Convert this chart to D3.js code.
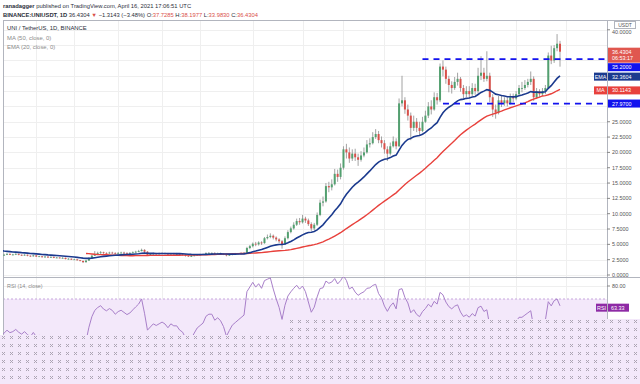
<!DOCTYPE html>
<html><head><meta charset="utf-8">
<script src="https://cdn.jsdelivr.net/npm/d3@7"></script>
<style>
body{margin:0;background:#fff;}
svg{display:block;font-family:"Liberation Sans",Arial,sans-serif;}
</style></head><body>
<svg id="chart" width="640" height="384"></svg>
<script>
// daily UNI/USDT candles, first one 2020-09-17 (the first 21 sit left of the visible window)
const firstOpen = 3.4;
const closes = [
  4.0, 5.6, 6.2, 5.2, 4.7, 4.6, 4.3, 4.6, 4.8, 4.7, 4.6, 4.5, 4.4, 4.2, 4.0, 3.8, 3.6, 3.5, 3.3, 3.2, 3.2,
  3.3, 3.45, 3.3, 3.35, 3.45, 3.3, 3.2, 3.3, 3.15,
  3.05, 3.2, 3.0, 3.05, 2.9, 3.0, 2.85, 2.95, 2.8, 2.85,
  2.75, 2.8, 2.6, 2.65, 2.5, 2.55, 2.4, 2.3, 2.1, 2.35,
  2.75, 3.15, 3.45, 3.6, 3.7, 3.6, 3.55, 3.65, 3.6, 3.5,
  3.6, 3.65, 3.6, 3.55, 3.6, 3.7, 3.8, 3.9, 4.1, 3.8,
  3.3, 3.4, 3.5, 3.45, 3.5, 3.55, 3.5, 3.4, 3.5, 3.45,
  3.45, 3.35, 3.3, 3.15, 3.05, 3.1, 3.2, 3.3, 3.35, 3.4,
  3.55, 3.6, 3.6, 3.5, 3.55, 3.5, 3.4, 3.2, 3.3, 3.4,
  3.45, 3.5, 3.55, 3.6, 4.4, 4.7, 5.1, 5.0, 5.3, 5.2,
  6.0, 6.2, 6.4, 6.1, 5.8, 5.5, 5.0, 6.0, 7.0, 7.6,
  8.2, 8.8, 8.6, 9.2, 8.9, 8.3, 7.6, 8.2, 9.8, 11.8,
  12.0, 14.5, 14.3, 14.8, 16.5, 16.0, 17.5, 20.5, 20.0, 19.0,
  19.8, 19.2, 18.8, 19.5, 20.0, 21.3, 21.5, 22.5, 23.0, 22.0,
  21.5, 20.5, 19.8, 21.0, 21.8, 21.0, 28.0, 28.5, 27.0, 26.0,
  24.0, 25.0, 24.0, 23.5, 25.0, 26.0, 27.5, 27.0, 29.0, 28.5,
  34.0, 33.5, 32.0, 31.0, 30.5, 31.5, 32.0, 30.5, 29.5, 30.0,
  29.5, 30.5, 30.0, 32.5, 33.0, 32.0, 32.5, 29.0, 27.0, 26.5,
  28.5, 28.0, 28.5, 28.0, 29.0, 28.8, 29.5, 30.5, 30.5, 31.0,
  31.5, 32.0, 29.0, 30.0, 29.5, 30.0, 30.5, 35.8, 35.0, 37.0, 37.7285, 36.4304
];
const highs = [
  4.5, 6.4, 8.4, 6.3, 5.3, 5.0, 4.8, 4.9, 5.1, 5.0, 4.9, 4.8, 4.6, 4.5, 4.3, 4.1, 3.9, 3.7, 3.6, 3.4, 3.4,
  3.45, 3.55, 3.5, 3.45, 3.55, 3.5, 3.35, 3.4, 3.35,
  3.2, 3.3, 3.25, 3.15, 3.1, 3.1, 3.05, 3.05, 3.0, 2.95,
  2.9, 2.9, 2.85, 2.75, 2.7, 2.65, 2.6, 2.45, 2.35, 2.45,
  2.9, 3.3, 3.9, 3.8, 3.9, 3.8, 3.7, 3.8, 3.8, 3.7,
  3.75, 3.8, 3.8, 3.7, 3.75, 3.85, 3.95, 4.1, 4.3, 4.2,
  3.9, 3.55, 3.65, 3.6, 3.65, 3.7, 3.65, 3.6, 3.6, 3.6,
  3.6, 3.5, 3.45, 3.4, 3.25, 3.25, 3.3, 3.4, 3.45, 3.5,
  3.7, 3.75, 3.7, 3.7, 3.65, 3.65, 3.55, 3.45, 3.4, 3.5,
  3.6, 3.6, 3.7, 3.75, 4.6, 4.9, 5.3, 5.4, 5.5, 5.5,
  6.2, 6.6, 6.8, 6.6, 6.3, 6.0, 5.7, 6.3, 7.3, 7.9,
  8.6, 9.2, 9.3, 9.8, 9.5, 9.2, 8.6, 8.5, 10.2, 12.3,
  12.8, 15.0, 15.2, 15.6, 17.3, 17.2, 18.2, 21.0, 21.4, 20.8,
  20.5, 20.6, 19.8, 20.2, 20.8, 22.0, 22.3, 23.3, 23.8, 23.5,
  22.6, 22.0, 21.0, 21.6, 22.6, 22.3, 28.8, 32.5, 29.0, 27.8,
  26.5, 26.0, 25.6, 25.0, 25.8, 26.8, 28.2, 28.5, 29.8, 29.7,
  34.5, 35.0, 34.0, 32.5, 31.6, 32.3, 33.0, 32.3, 31.0, 30.8,
  30.8, 31.3, 31.2, 33.8, 35.7, 33.8, 36.5, 33.0, 29.5, 27.8,
  29.2, 29.3, 29.0, 29.0, 29.6, 29.6, 30.0, 31.0, 31.5, 31.8,
  32.0, 33.2, 32.4, 30.5, 30.3, 30.5, 31.0, 36.3, 37.4, 37.5, 39.3, 38.1977
];
const lows = [
  3.0, 3.9, 5.2, 4.8, 4.3, 4.3, 4.1, 4.2, 4.5, 4.5, 4.4, 4.3, 4.1, 4.0, 3.8, 3.6, 3.4, 3.3, 3.1, 3.0, 3.0,
  3.15, 3.25, 3.25, 3.2, 3.25, 3.2, 3.1, 3.15, 3.05,
  2.95, 3.0, 2.95, 2.95, 2.85, 2.85, 2.8, 2.8, 2.75, 2.75,
  2.7, 2.7, 2.55, 2.55, 2.45, 2.45, 2.35, 2.25, 1.95, 2.0,
  2.3, 2.7, 3.1, 3.35, 3.45, 3.45, 3.4, 3.45, 3.45, 3.35,
  3.4, 3.5, 3.45, 3.4, 3.45, 3.55, 3.6, 3.7, 3.85, 3.6,
  3.1, 3.2, 3.3, 3.3, 3.35, 3.4, 3.35, 3.25, 3.3, 3.3,
  3.3, 3.2, 3.15, 3.0, 2.95, 2.95, 3.05, 3.15, 3.2, 3.25,
  3.35, 3.45, 3.45, 3.35, 3.4, 3.35, 3.25, 3.05, 3.1, 3.2,
  3.3, 3.35, 3.4, 3.45, 3.55, 4.2, 4.5, 4.7, 4.8, 4.9,
  5.1, 5.8, 6.0, 5.8, 5.5, 5.2, 4.3, 4.9, 5.8, 6.8,
  7.4, 8.0, 8.2, 8.4, 8.5, 8.0, 7.2, 7.3, 8.0, 9.6,
  11.2, 11.8, 13.5, 13.8, 14.6, 15.2, 15.6, 17.2, 19.0, 18.3,
  18.6, 18.6, 17.8, 18.5, 19.2, 19.8, 20.8, 21.3, 22.2, 21.5,
  20.8, 19.8, 18.6, 19.5, 20.8, 20.5, 20.9, 27.5, 26.3, 25.2,
  22.0, 23.5, 23.3, 22.8, 23.3, 24.8, 25.6, 26.2, 26.8, 27.8,
  28.2, 32.4, 31.2, 29.8, 29.6, 30.2, 30.9, 29.9, 28.8, 29.0,
  28.8, 29.2, 29.4, 29.6, 31.8, 31.5, 31.6, 28.2, 25.8, 25.5,
  26.2, 27.4, 27.6, 27.5, 27.8, 28.2, 28.5, 29.2, 29.8, 30.2,
  30.6, 31.0, 28.4, 28.7, 29.0, 29.2, 29.5, 30.3, 34.4, 34.6, 36.5, 33.983
];

const priceTicks = [0, 2.5, 5, 7.5, 10, 12.5, 15, 17.5, 20, 22.5, 25, 27.5, 30, 32.5, 35, 37.5, 40];
const gridDates = ["2020-10-19","2020-11-01","2020-11-16","2020-12-01","2020-12-14","2021-01-01",
  "2021-01-18","2021-02-01","2021-02-15","2021-03-01","2021-03-16","2021-04-01","2021-04-18"];
const levels = [35.2, 27.97];
const levelStarts = ["2021-02-28", "2021-03-07"];
const emaLast = 32.3604, maLast = 30.1143, rsiLast = 63.33;

const green = "#53a070", red = "#d9504a", wick = "#8c8c8c";
const svg = d3.select("#chart");
const parse = d3.utcParse("%Y-%m-%d");
const dates = closes.map((_, i) => new Date(Date.UTC(2020, 8, 17 + i)));

const pL = 3, axisX = 607, pT = 20, sep = 277, H = 384;
const x = d3.scaleUtc().domain([parse("2020-11-05"), parse("2021-04-16")]).range([86, 560]);
const y = d3.scaleLinear().domain([0, 40]).range([275, 29.8]);
const yr = d3.scaleLinear().domain([80, 30]).range([286, 351]);

const defs = svg.append("defs");
defs.append("clipPath").attr("id", "cMain").append("rect")
  .attr("x", pL).attr("y", pT).attr("width", axisX - pL).attr("height", sep - pT);
defs.append("clipPath").attr("id", "cRsi").append("rect")
  .attr("x", pL).attr("y", sep).attr("width", axisX - pL).attr("height", H - sep);
const pat = defs.append("pattern").attr("id", "dots").attr("width", 8).attr("height", 8)
  .attr("patternUnits", "userSpaceOnUse").attr("x", 2).attr("y", 0);
pat.append("rect").attr("width", 8).attr("height", 8).attr("fill", "#f3e8fa");
[[0,0],[2,0],[1,1],[0,2],[2,2]].forEach(p => pat.append("rect")
  .attr("x", p[0]).attr("y", p[1]).attr("width", 1).attr("height", 1).attr("fill", "#aca4b3"));

// header
const hdr = svg.append("g").attr("font-size", 5.8).attr("fill", "#2a2e39");
const t1 = hdr.append("text").attr("x", 3).attr("y", 8);
t1.append("tspan").attr("font-weight", "bold").text("ranadagger");
t1.append("tspan").text(" published on TradingView.com, April 16, 2021 17:06:51 UTC");
const t2 = hdr.append("text").attr("x", 3).attr("y", 17);
t2.append("tspan").attr("font-weight", "bold").text("BINANCE:UNIUSDT, 1D");
t2.append("tspan").text(" 36.4304 ");
t2.append("tspan").attr("fill", red).text("▼");
t2.append("tspan").text(" −1.3143 (−3.48%) O:");
t2.append("tspan").attr("fill", red).text("37.7285");
t2.append("tspan").text(" H:");
t2.append("tspan").attr("fill", red).text("38.1977");
t2.append("tspan").text(" L:");
t2.append("tspan").attr("fill", red).text("33.9830");
t2.append("tspan").text(" C:");
t2.append("tspan").attr("fill", red).text("36.4304");

// grid
const grid = svg.append("g").attr("stroke", "#efefef").attr("shape-rendering", "crispEdges");
grid.selectAll(".v").data(gridDates).join("line")
  .attr("x1", d => Math.round(x(parse(d))) + 0.5).attr("x2", d => Math.round(x(parse(d))) + 0.5)
  .attr("y1", pT).attr("y2", H);
grid.selectAll(".h").data(priceTicks).join("line")
  .attr("x1", pL).attr("x2", axisX).attr("y1", d => Math.round(y(d)) + 0.5).attr("y2", d => Math.round(y(d)) + 0.5);
grid.selectAll(".r").data([80, 60]).join("line")
  .attr("x1", pL).attr("x2", axisX).attr("y1", d => Math.round(yr(d)) + 0.5).attr("y2", d => Math.round(yr(d)) + 0.5);

// RSI band
svg.append("rect").attr("x", pL).attr("y", yr(70)).attr("width", axisX - pL).attr("height", H - yr(70))
  .attr("fill", "#f3e8fa");
svg.append("line").attr("x1", pL).attr("x2", axisX).attr("y1", yr(70)).attr("y2", yr(70))
  .attr("stroke", "#c7a6dc").attr("stroke-dasharray", "2,2");

// frame
const frame = svg.append("g").attr("stroke", "#b2b5be").attr("shape-rendering", "crispEdges");
frame.append("line").attr("x1", pL).attr("x2", 640).attr("y1", pT + 0.5).attr("y2", pT + 0.5);
frame.append("line").attr("x1", pL + 0.5).attr("x2", pL + 0.5).attr("y1", pT).attr("y2", H);
frame.append("line").attr("x1", axisX + 0.5).attr("x2", axisX + 0.5).attr("y1", pT).attr("y2", H);
frame.append("line").attr("x1", pL).attr("x2", 640).attr("y1", sep + 0.5).attr("y2", sep + 0.5);

// candles
const main = svg.append("g").attr("clip-path", "url(#cMain)");
const candles = closes.map((c, i) => ({
  date: dates[i], o: i === 0 ? firstOpen : closes[i - 1], h: highs[i], l: lows[i], c
}));
main.append("g").selectAll("line").data(candles).join("line")
  .attr("x1", d => x(d.date)).attr("x2", d => x(d.date))
  .attr("y1", d => y(d.h)).attr("y2", d => y(d.l))
  .attr("stroke", wick).attr("stroke-width", 0.8);
main.append("g").selectAll("rect").data(candles).join("rect")
  .attr("x", d => x(d.date) - 1).attr("width", 2)
  .attr("y", d => y(Math.max(d.o, d.c)))
  .attr("height", d => Math.max(0.8, Math.abs(y(d.o) - y(d.c))))
  .attr("fill", d => d.c >= d.o ? green : red);

// indicators
const alpha = 2 / 21;
const ema = [];
closes.forEach((c, i) => ema.push(i === 0 ? c : alpha * c + (1 - alpha) * ema[i - 1]));
const ma = closes.map((c, i) => i < 49 ? null : d3.mean(closes.slice(i - 49, i + 1)));
const line = d3.line().defined(d => d[1] != null).x(d => x(d[0])).y(d => y(d[1]));
main.append("path").attr("d", line(dates.map((d, i) => [d, ma[i]])))
  .attr("fill", "none").attr("stroke", "#e8413c").attr("stroke-width", 1.4);
main.append("path").attr("d", line(dates.map((d, i) => [d, ema[i]])))
  .attr("fill", "none").attr("stroke", "#1b3a8e").attr("stroke-width", 1.6);

// level lines
main.selectAll(".lvl").data(levels).join("line")
  .attr("x1", (d, i) => x(parse(levelStarts[i]))).attr("x2", axisX)
  .attr("y1", d => y(d)).attr("y2", d => y(d))
  .attr("stroke", "#1212ee").attr("stroke-width", 1.8).attr("stroke-dasharray", "6,5");

// RSI
const rsi = [];
let ag = 0, al = 0;
for (let i = 1; i < closes.length; i++) {
  const ch = closes[i] - closes[i - 1];
  const g = Math.max(ch, 0), l = Math.max(-ch, 0);
  if (i <= 14) { ag += g / 14; al += l / 14; if (i === 14) rsi[i] = 100 - 100 / (1 + ag / al); }
  else { ag = (ag * 13 + g) / 14; al = (al * 13 + l) / 14; rsi[i] = 100 - 100 / (1 + ag / al); }
}
svg.append("g").attr("clip-path", "url(#cRsi)").append("path")
  .attr("d", d3.line().defined(d => d[1] != null).x(d => x(d[0])).y(d => yr(d[1]))(dates.map((d, i) => [d, rsi[i] ?? null])))
  .attr("fill", "none").attr("stroke", "#a87fc9").attr("stroke-width", 1);

// legends
const lg = svg.append("g").attr("font-size", 5.9);
lg.append("text").attr("x", 7).attr("y", 30).attr("fill", "#2a2e39").text("UNI / TetherUS, 1D, BINANCE");
lg.append("text").attr("x", 7).attr("y", 39.5).attr("fill", "#8a8a8a").text("MA (50, close, 0)");
lg.append("text").attr("x", 7).attr("y", 48.5).attr("fill", "#8a8a8a").text("EMA (20, close, 0)");
lg.append("text").attr("x", 7).attr("y", 288).attr("fill", "#8a8a8a").attr("font-size", 5.4).text("RSI (14, close)");

// right axis labels & boxes
const boxes = [
  {v: 36.4304, fill: "#e0574f", rows: ["36.4304", "06:53:17"]},
  {v: levels[0], fill: "#1212ee", rows: ["35.2000"]},
  {v: emaLast, fill: "#1b3a8e", rows: ["32.3604"], tag: "EMA"},
  {v: maLast, fill: "#e8413c", rows: ["30.1143"], tag: "MA"},
  {v: levels[1], fill: "#1212ee", rows: ["27.9700"]}
];
let lastBottom = -Infinity;
boxes.forEach(b => {
  const h = b.rows.length === 2 ? 15 : 8;
  let y0 = y(b.v) - 4;
  if (y0 < lastBottom + 0.5) y0 = lastBottom + 0.5;
  b.y0 = y0; b.h = h; lastBottom = y0 + h;
});
const ax = svg.append("g").attr("font-size", 5.4);
ax.selectAll(".tk").data(priceTicks.filter(t => !boxes.some(b => y(t) > b.y0 - 3 && y(t) < b.y0 + b.h + 3)))
  .join("g").each(function(t) {
    const g = d3.select(this);
    // the top label is nudged below the currency tag
    const ty = t === 40 ? y(t) + 4.2 : y(t) + 2;
    g.append("line").attr("x1", axisX).attr("x2", axisX + 3).attr("y1", y(t)).attr("y2", y(t)).attr("stroke", "#888");
    g.append("text").attr("x", axisX + 5).attr("y", ty).attr("fill", "#555").text(d3.format(".4f")(t));
  });
boxes.forEach(b => {
  ax.append("rect").attr("x", axisX + 1).attr("y", b.y0).attr("width", 33).attr("height", b.h).attr("fill", b.fill);
  b.rows.forEach((r, k) => ax.append("text").attr("x", axisX + 5).attr("y", b.y0 + 6 + k * 6.5)
    .attr("fill", "#fff").text(r));
  if (b.tag) {
    ax.append("rect").attr("x", axisX - 13).attr("y", b.y0).attr("width", 13).attr("height", b.h).attr("fill", b.fill);
    ax.append("text").attr("x", axisX - 6.5).attr("y", b.y0 + 6).attr("text-anchor", "middle")
      .attr("fill", "#fff").text(b.tag);
  }
});
// currency tag
ax.append("rect").attr("x", 614.5).attr("y", 21.5).attr("width", 21).attr("height", 7)
  .attr("fill", "#fff").attr("stroke", "#b2b5be");
ax.append("text").attr("x", 625).attr("y", 27).attr("text-anchor", "middle").attr("fill", "#555")
  .attr("font-size", 5).text("USDT");

// RSI axis
ax.append("line").attr("x1", axisX).attr("x2", axisX + 3).attr("y1", yr(80)).attr("y2", yr(80)).attr("stroke", "#888");
ax.append("text").attr("x", axisX + 5).attr("y", yr(80) + 2).attr("fill", "#555").text("80.00");
const ry = yr(rsiLast) - 4;
ax.append("rect").attr("x", axisX - 11).attr("y", ry).attr("width", 11).attr("height", 8).attr("fill", "#8e2aa5");
ax.append("text").attr("x", axisX - 5.5).attr("y", ry + 6).attr("text-anchor", "middle").attr("fill", "#fff").text("RSI");
ax.append("rect").attr("x", axisX + 1).attr("y", ry).attr("width", 21).attr("height", 8).attr("fill", "#8e2aa5");
ax.append("text").attr("x", axisX + 4).attr("y", ry + 6).attr("fill", "#fff").text(d3.format(".2f")(rsiLast));

// dotted lower area of the snapshot
svg.append("path").attr("d", "M0,335H287V319H640V384H0Z").attr("fill", "url(#dots)");
</script>
</body></html>
